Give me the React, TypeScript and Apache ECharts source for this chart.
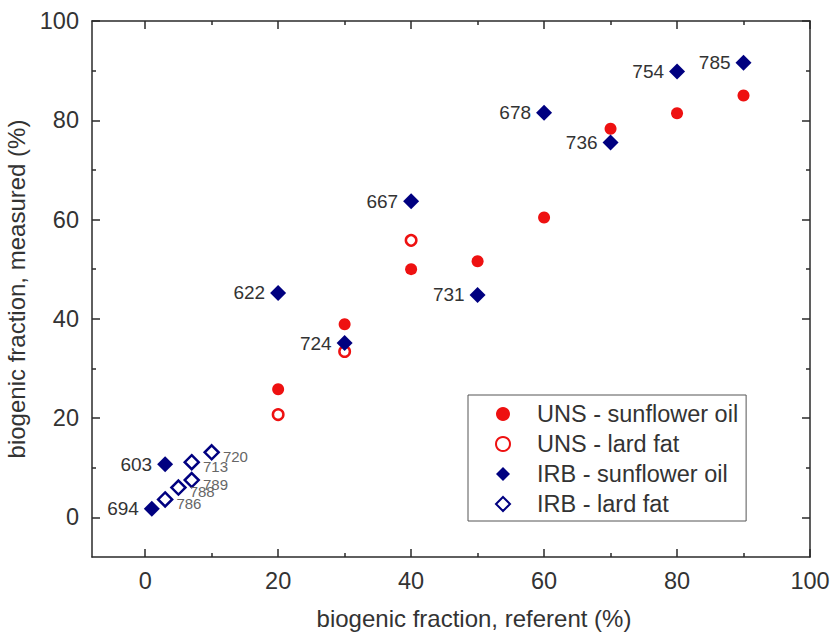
import React, { useEffect, useRef } from "react";
import * as echarts from "echarts";

const FONT = '"Liberation Sans", Arial, Helvetica, sans-serif';
const TEXT = "#333333";
const RED = "#ee1111";
const NAVY = "#000080";

// tick/label positions
const xMajor = [0, 20, 40, 60, 80, 100];
const xMinor = [10, 30, 50, 70, 90];
const yMajor = [0, 20, 40, 60, 80, 100];
const yMinor = [10, 30, 50, 70, 90];

// UNS - sunflower oil
const unsSunX = [20, 30, 40, 50, 60, 70, 80, 90];
const unsSunY = [25.8, 38.9, 50.0, 51.6, 60.4, 78.3, 81.4, 85.0];
// UNS - lard fat
const unsLardX = [20, 30, 40];
const unsLardY = [20.7, 33.4, 55.8];
// IRB - sunflower oil
const irbSunX = [1, 3, 20, 30, 40, 50, 60, 70, 80, 90];
const irbSunY = [1.7, 10.7, 45.2, 35.1, 63.7, 44.8, 81.5, 75.5, 89.8, 91.6];
const irbSunIds = ["694", "603", "622", "724", "667", "731", "678", "736", "754", "785"];
// IRB - lard fat
const irbLardX = [3, 5, 7, 7, 10];
const irbLardY = [3.6, 6.0, 7.5, 11.1, 13.1];
const irbLardIds = ["786", "788", "789", "713", "720"];

const seriesNames = ["UNS - sunflower oil", "UNS - lard fat", "IRB - sunflower oil", "IRB - lard fat"];

const lineStyle = { color: "#2a2a2a", width: 1.5 };

function xAx(position: string, ticks: number[], len: number, showLine: boolean, labels: boolean, name?: string) {
  return {
    type: "value",
    position,
    min: -8,
    max: 100,
    axisLine: { show: showLine, onZero: false, lineStyle },
    axisTick: { show: true, inside: true, length: len, customValues: ticks, lineStyle },
    axisLabel: labels
      ? { show: true, customValues: xMajor, fontSize: 23.5, color: TEXT, fontFamily: FONT, margin: 12 }
      : { show: false },
    splitLine: { show: false },
    name: name || "",
    nameLocation: "middle",
    nameGap: 49,
    nameTextStyle: { fontSize: 24, color: TEXT, fontFamily: FONT, padding: [0, 0, 0, 46] },
  };
}

function yAx(position: string, ticks: number[], len: number, showLine: boolean, labels: boolean, name?: string) {
  return {
    type: "value",
    position,
    min: -8,
    max: 100,
    axisLine: { show: showLine, onZero: false, lineStyle },
    axisTick: { show: true, inside: true, length: len, customValues: ticks, lineStyle },
    axisLabel: labels
      ? { show: true, customValues: yMajor, fontSize: 23.5, color: TEXT, fontFamily: FONT, margin: 13 }
      : { show: false },
    splitLine: { show: false },
    name: name || "",
    nameLocation: "middle",
    nameGap: 58,
    nameTextStyle: { fontSize: 24, color: TEXT, fontFamily: FONT },
  };
}

export default function App() {
  const ref = useRef<HTMLDivElement>(null);
  useEffect(() => {
    if (!ref.current) return;
    const chart = echarts.init(ref.current, undefined, { renderer: "svg" });
    const option: any = {
      animation: false,
      backgroundColor: "#ffffff",
      textStyle: { fontFamily: FONT },
      grid: { left: 92, top: 21, right: 24, bottom: 81, containLabel: false, outerBoundsMode: "none" },
      xAxis: [
        xAx("bottom", xMajor, 8, true, true, "biogenic fraction, referent (%)"),
        xAx("bottom", xMinor, 4, false, false),
        xAx("top", xMajor, 8, true, false),
        xAx("top", xMinor, 4, false, false),
      ],
      yAxis: [
        yAx("left", yMajor, 8, true, true, "biogenic fraction, measured (%)"),
        yAx("left", yMinor, 4, false, false),
        yAx("right", yMajor, 8, true, false),
        yAx("right", yMinor, 4, false, false),
      ],
      legend: {
        orient: "vertical",
        left: 468,
        top: 395,
        padding: [7, 8, 5, 27],
        itemWidth: 14,
        itemHeight: 14,
        itemGap: 6,
        borderColor: "#555555",
        borderWidth: 1,
        backgroundColor: "#ffffff",
        textStyle: { fontSize: 23.5, lineHeight: 22, color: TEXT, fontFamily: FONT, padding: [0, 0, 0, 22] },
        data: seriesNames,
      },
      series: [
        {
          name: seriesNames[0],
          type: "scatter",
          symbol: "circle",
          symbolSize: 12,
          itemStyle: { color: RED, opacity: 1 },
          data: unsSunX.map((x, i) => [x, unsSunY[i]]),
        },
        {
          name: seriesNames[1],
          type: "scatter",
          symbol: "circle",
          symbolSize: 10.5,
          itemStyle: { color: "#ffffff", borderColor: RED, borderWidth: 2.5, opacity: 1 },
          data: unsLardX.map((x, i) => [x, unsLardY[i]]),
        },
        {
          name: seriesNames[2],
          type: "scatter",
          symbol: "diamond",
          symbolSize: 16,
          itemStyle: { color: NAVY, opacity: 1 },
          label: {
            show: true,
            position: "left",
            distance: 5,
            formatter: "{b}",
            fontSize: 19,
            color: TEXT,
            fontFamily: FONT,
          },
          data: irbSunX.map((x, i) => ({ name: irbSunIds[i], value: [x, irbSunY[i]] })),
        },
        {
          name: seriesNames[3],
          type: "scatter",
          symbol: "diamond",
          symbolSize: 14,
          itemStyle: { color: "#ffffff", borderColor: NAVY, borderWidth: 2.5, opacity: 1 },
          label: {
            show: true,
            position: "right",
            distance: 3,
            offset: [0, 4],
            formatter: "{b}",
            fontSize: 15,
            color: "#666666",
            fontFamily: FONT,
          },
          data: irbLardX.map((x, i) => ({ name: irbLardIds[i], value: [x, irbLardY[i]] })),
        },
      ],
    };
    chart.setOption(option);
    return () => chart.dispose();
  }, []);
  return (
    <div
      ref={ref}
      style={{ position: "fixed", left: 0, top: 0, width: 834, height: 638, background: "#fff" }}
    />
  );
}
